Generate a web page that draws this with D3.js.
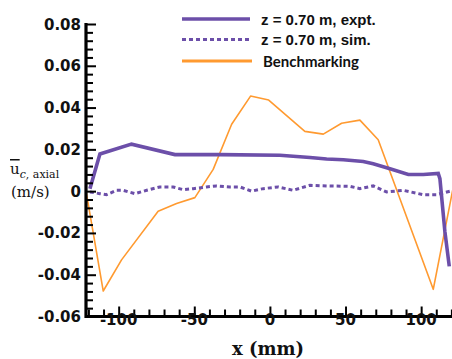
<!DOCTYPE html>
<html>
<head>
<meta charset="utf-8">
<script src="https://cdn.jsdelivr.net/npm/d3@7"></script>
<style>
  html, body { margin: 0; padding: 0; background: #fff; }
  svg { display: block; }
</style>
</head>
<body>
<svg id="chart" width="452" height="359"></svg>
<script>
// Measured axial velocity profiles (x in mm, velocity in m/s)
const exptX = [-119, -112.4, -91.5, -62.8, -33, 6.6, 15.4, 26.5, 37.5, 48.5, 61.7, 68.3, 79.4, 91.5, 101.4, 111.3, 112.4, 115.7, 118.6];
const exptU = [0.0012, 0.0178, 0.0225, 0.0175, 0.0175, 0.0172, 0.0167, 0.0161, 0.0154, 0.0150, 0.0142, 0.0131, 0.0107, 0.0080, 0.0080, 0.0085, 0.0060, -0.0194, -0.0360];

const simX = [-119, -112.4, -108, -101.4, -97, -89.3, -81.5, -72.8, -64, -57.3, -50.7, -41.9, -35.3, -26.5, -19.8, -12.1, -4.4, 5.5, 15.4, 26.5, 37.5, 52.9, 59.5, 68.3, 77.2, 88.2, 101.4, 110.2, 119];
const simU = [-0.0004, -0.0012, -0.0017, 0.0004, 0.0004, -0.0012, 0.0004, 0.0020, 0.0020, 0.0007, 0.0012, 0.0020, 0.0025, 0.0020, 0.0020, 0.0000, 0.0012, 0.0020, 0.0004, 0.0028, 0.0025, 0.0023, 0.0012, 0.0025, -0.0004, 0.0004, -0.0017, -0.0017, 0.0000];

const benchX = [-121.7, -110.2, -98.1, -73.9, -61.7, -49.6, -37.5, -25.3, -12.8, -0.8, 23.1, 35.3, 47.4, 59.5, 71.6, 108, 121];
const benchU = [0.0005, -0.0478, -0.0329, -0.0096, -0.0059, -0.0031, 0.0104, 0.0320, 0.0455, 0.0436, 0.0286, 0.0273, 0.0325, 0.0340, 0.0246, -0.0470, 0.0010];

const xTicks = [-100, -50, 0, 50, 100];
const yTicks = [-0.06, -0.04, -0.02, 0, 0.02, 0.04, 0.06, 0.08];
const seriesNames = ["z = 0.70 m, expt.", "z = 0.70 m, sim.", "Benchmarking"];

const purple = "#6c4fa9";
const orange = "#ff9a30";

const svg = d3.select("#chart");

const x = d3.scaleLinear().domain([-121.6, 120]).range([86, 451.4]);
const y = d3.scaleLinear().domain([-0.06, 0.08]).range([316.5, 24]);

const plot = svg.append("g");

const line = d3.line().x(d => x(d[0])).y(d => y(d[1]));

// Benchmarking curve (thin orange)
plot.append("path")
  .datum(d3.zip(benchX, benchU))
  .attr("d", line)
  .attr("fill", "none")
  .attr("stroke", orange)
  .attr("stroke-width", 1.6)
  .attr("stroke-linejoin", "round");

// Simulation (dotted purple)
plot.append("path")
  .datum(d3.zip(simX, simU))
  .attr("d", line)
  .attr("fill", "none")
  .attr("stroke", purple)
  .attr("stroke-width", 3)
  .attr("stroke-dasharray", "4,3");

// Experiment (thick purple)
plot.append("path")
  .datum(d3.zip(exptX, exptU))
  .attr("d", line)
  .attr("fill", "none")
  .attr("stroke", purple)
  .attr("stroke-width", 3.6)
  .attr("stroke-linejoin", "miter");

// Axes: major + minor ticks pointing inward
const tickFont = "'DejaVu Sans', sans-serif";

const xMinor = d3.range(-120, 121, 10).filter(v => !xTicks.includes(v));
const xAxisMinor = d3.axisTop(x).tickValues(xMinor).tickSize(7).tickFormat("");
const xAxisMajor = d3.axisTop(x).tickValues(xTicks).tickSize(10).tickFormat("");

const gx = svg.append("g").attr("transform", `translate(0,${y(-0.06)})`);
gx.append("g").call(xAxisMinor);
gx.append("g").call(xAxisMajor);
gx.selectAll(".domain").remove();
gx.selectAll("line").attr("stroke", "#000").attr("stroke-width", 2);

const yMinor = d3.range(-0.06, 0.0801, 0.004).map(v => +v.toFixed(3)).filter(v => !yTicks.some(t => Math.abs(t - v) < 1e-6));
const yAxisMinor = d3.axisRight(y).tickValues(yMinor).tickSize(7).tickFormat("");
const yAxisMajor = d3.axisRight(y).tickValues(yTicks).tickSize(10).tickFormat("");

const gy = svg.append("g").attr("transform", `translate(${x(-121.6)},0)`);
gy.append("g").call(yAxisMinor);
gy.append("g").call(yAxisMajor);
gy.selectAll(".domain").remove();
gy.selectAll("line").attr("stroke", "#000").attr("stroke-width", 2);

// Axis spines
svg.append("line")
  .attr("x1", x(-121.6)).attr("x2", 452)
  .attr("y1", y(-0.06)).attr("y2", y(-0.06))
  .attr("stroke", "#000").attr("stroke-width", 3.2);
svg.append("line")
  .attr("x1", x(-121.6)).attr("x2", x(-121.6))
  .attr("y1", y(0.08) - 1).attr("y2", y(-0.06) + 1.6)
  .attr("stroke", "#000").attr("stroke-width", 3.2);

// Tick labels
svg.append("g").selectAll("text")
  .data(xTicks).join("text")
  .attr("x", d => x(d))
  .attr("y", 325)
  .attr("text-anchor", "middle")
  .attr("font-family", tickFont)
  .attr("font-weight", "bold")
  .attr("font-size", 15)
  .attr("fill", "#111")
  .text(d => d3.format("d")(d).replace("−", "-"));

svg.append("g").selectAll("text")
  .data(yTicks).join("text")
  .attr("x", 81)
  .attr("y", d => y(d) + 5.5)
  .attr("text-anchor", "end")
  .attr("font-family", tickFont)
  .attr("font-weight", "bold")
  .attr("font-size", 15)
  .attr("fill", "#111")
  .text(d => d === 0 ? "0" : d3.format(".2f")(d).replace("−", "-"));

// Axis titles
svg.append("text")
  .attr("x", 268).attr("y", 355)
  .attr("text-anchor", "middle")
  .attr("font-family", "'DejaVu Serif', serif")
  .attr("font-weight", "bold")
  .attr("font-size", 18)
  .attr("fill", "#111")
  .text("x (mm)");

const yTitle = svg.append("text")
  .attr("font-family", "'DejaVu Serif', serif")
  .attr("fill", "#111");
yTitle.append("tspan")
  .attr("x", 10).attr("y", 174)
  .attr("font-size", 15)
  .attr("text-decoration", "overline")
  .text("u");
yTitle.append("tspan")
  .attr("dy", 4)
  .attr("font-size", 11)
  .attr("font-style", "italic")
  .text("c");
yTitle.append("tspan")
  .attr("font-size", 11)
  .text(", axial");

svg.append("text")
  .attr("x", 11).attr("y", 197)
  .attr("font-family", "'DejaVu Serif', serif")
  .attr("font-size", 15)
  .attr("fill", "#111")
  .text("(m/s)");

// Legend
const legend = svg.append("g");
const legendRows = [
  { name: seriesNames[0], color: purple, width: 3.6, dash: null, y: 19, font: "'Liberation Sans', Arial, sans-serif", x2: 250, tx: 261 },
  { name: seriesNames[1], color: purple, width: 3, dash: "4,3", y: 39.5, font: "'Liberation Sans', Arial, sans-serif", x2: 250, tx: 261 },
  { name: seriesNames[2], color: orange, width: 3.2, dash: null, y: 61, font: "Lato, 'Open Sans', sans-serif", x2: 252, tx: 263 }
];
legendRows.forEach(r => {
  legend.append("line")
    .attr("x1", 182).attr("x2", r.x2)
    .attr("y1", r.y).attr("y2", r.y)
    .attr("stroke", r.color)
    .attr("stroke-width", r.width)
    .attr("stroke-dasharray", r.dash);
  legend.append("text")
    .attr("x", r.tx).attr("y", r.y + 5.5)
    .attr("font-family", r.font)
    .attr("font-weight", "bold")
    .attr("font-size", 15)
    .attr("fill", "#111")
    .text(r.name);
});
</script>
</body>
</html>
